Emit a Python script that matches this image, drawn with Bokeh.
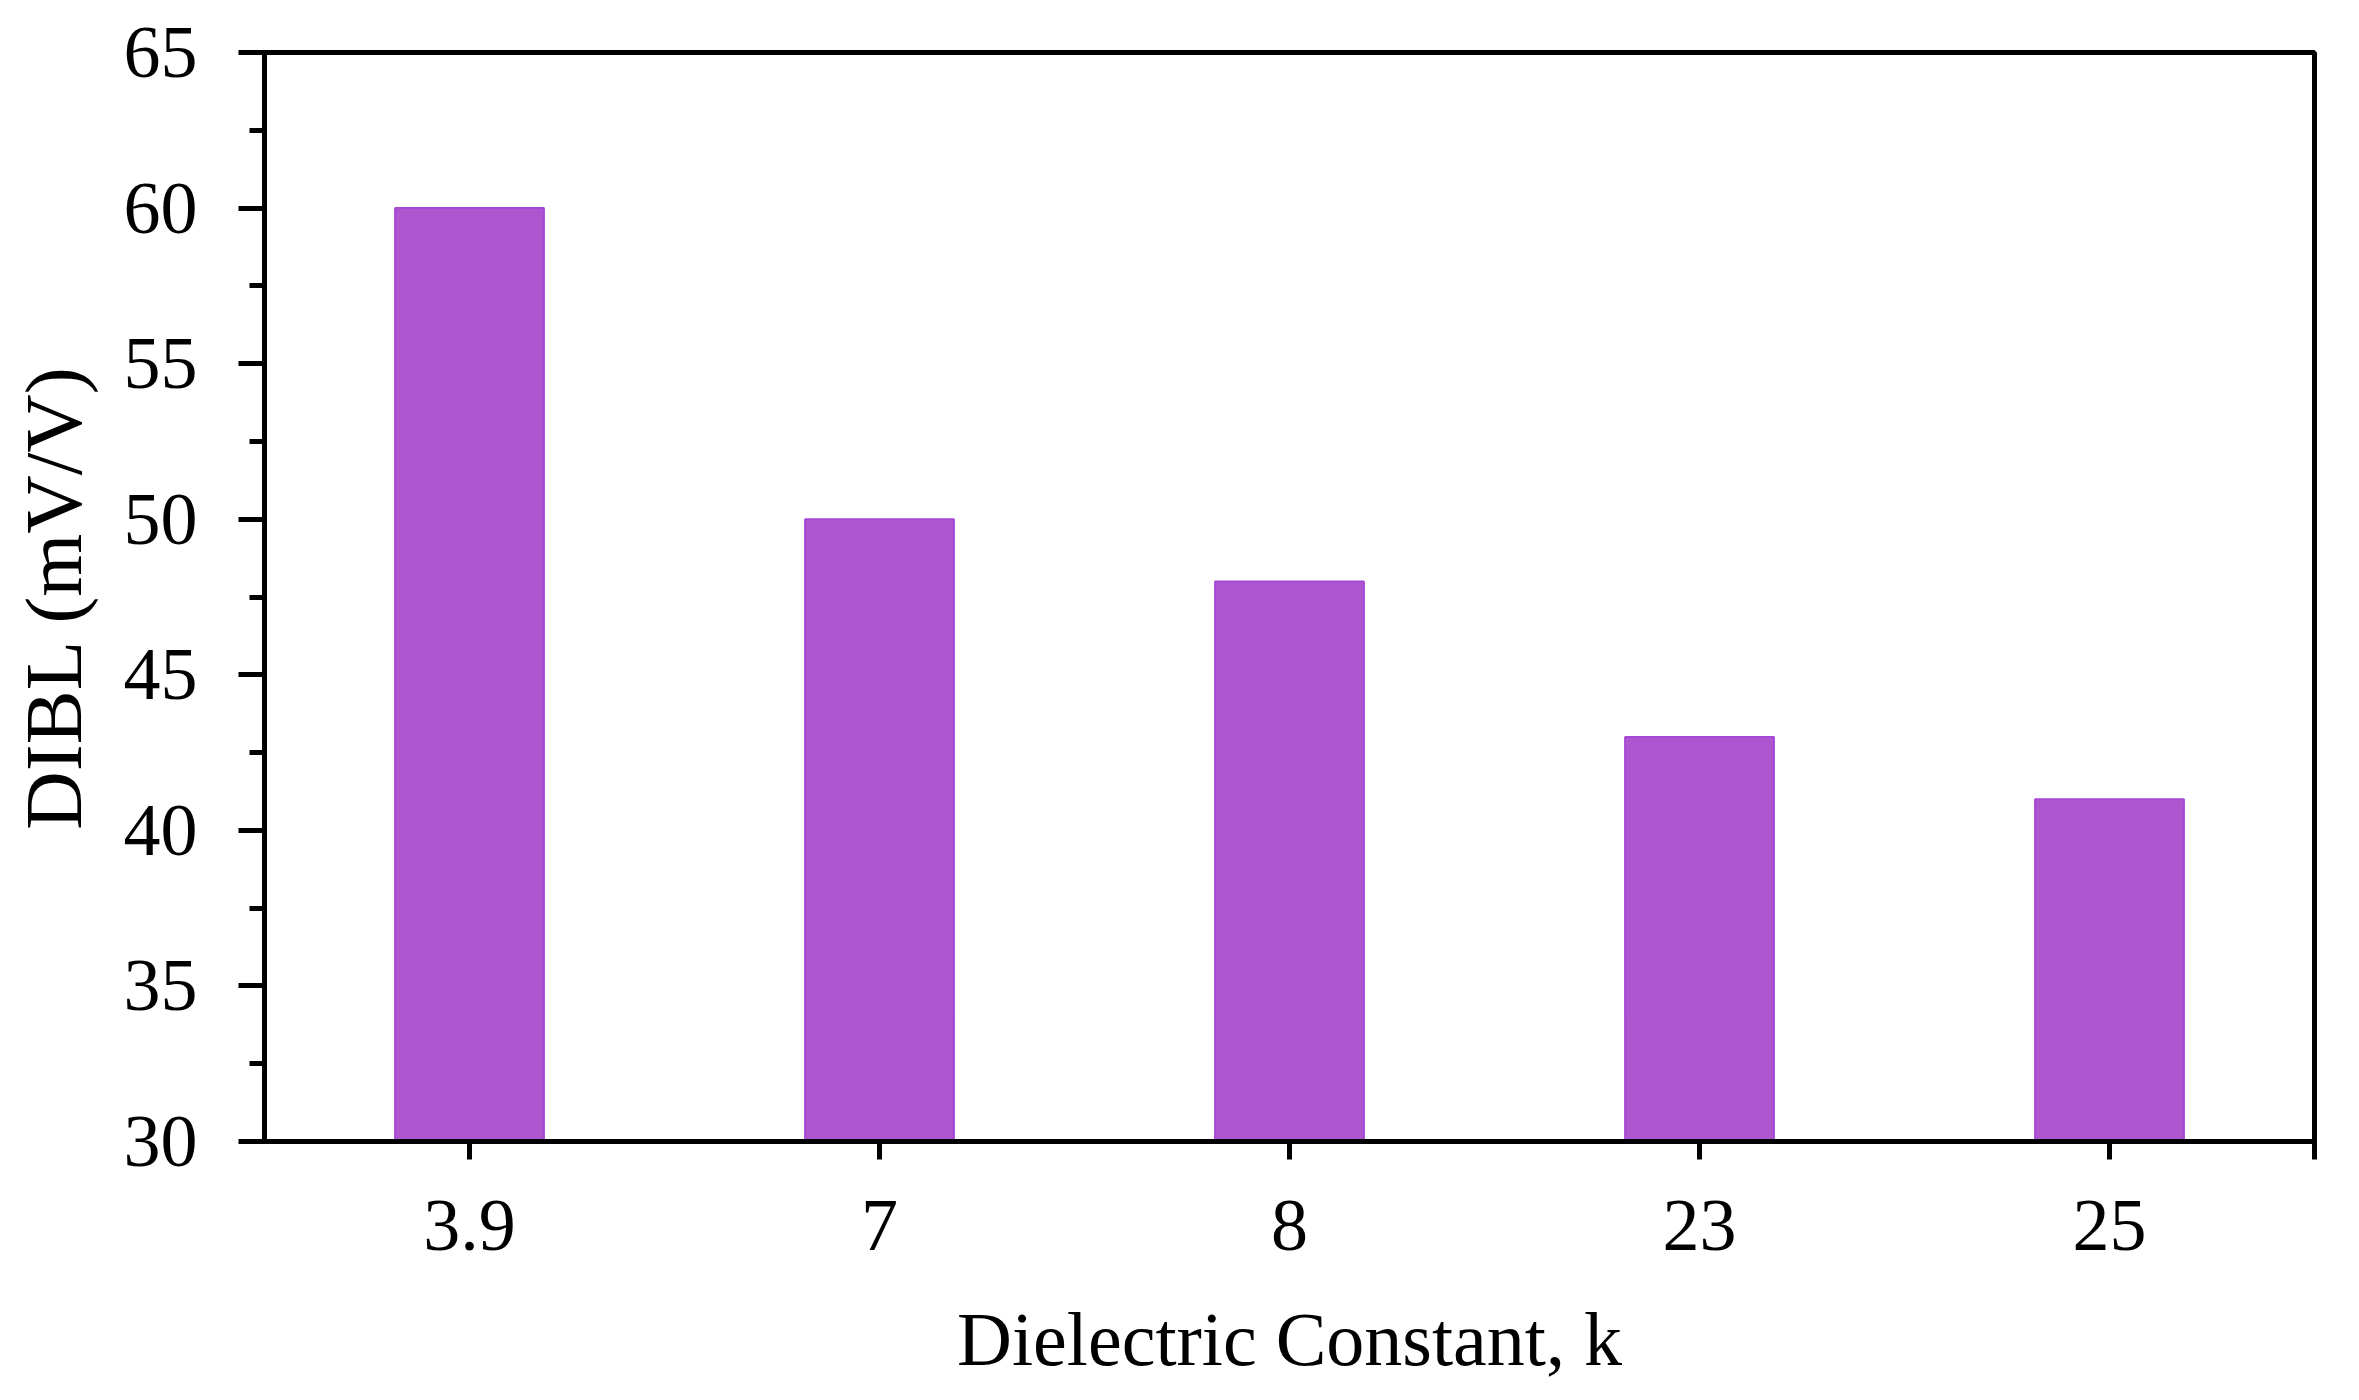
from bokeh.plotting import figure
from bokeh.models import Range1d, FixedTicker, SingleIntervalTicker, ColumnDataSource
from bokeh.embed import file_html
from bokeh.resources import INLINE

# Data
categories = ["3.9", "7", "8", "23", "25"]
dibl_values = [60, 50, 48, 43, 41]

xpos = [i + 0.5 for i in range(len(categories))]
src = ColumnDataSource(dict(x=xpos, top=dibl_values, cat=categories))

FONT = "Liberation Serif"

p = figure(width=2343, height=1384, output_backend="svg", toolbar_location=None,
           x_range=Range1d(0, len(categories)), y_range=Range1d(30, 65),
           min_border_left=264, min_border_right=29, min_border_top=52, min_border_bottom=243)

p.vbar(x="x", top="top", bottom=30, width=0.363, source=src,
       fill_color="#AD56D0", line_color="#A648D6", line_width=2)

p.grid.visible = False
p.outline_line_color = "black"
p.outline_line_width = 5
p.background_fill_color = "white"
p.border_fill_color = "white"

# X axis
xa = p.xaxis[0]
xa.ticker = FixedTicker(ticks=xpos + [len(categories)])
overrides = {x: c for x, c in zip(xpos, categories)}
overrides[len(categories)] = ""
xa.major_label_overrides = overrides
xa.axis_label = "Dielectric Constant, k"
xa.minor_tick_line_color = None
xa.major_tick_in = 0
xa.major_tick_out = 18
xa.major_tick_line_width = 5
xa.axis_line_width = 5
xa.major_label_standoff = 41
xa.axis_label_standoff = 44

# Y axis
ya = p.yaxis[0]
ya.ticker = SingleIntervalTicker(interval=5, num_minor_ticks=2)
ya.axis_label = "DIBL (mV/V)"
ya.major_tick_in = 0
ya.major_tick_out = 26
ya.minor_tick_in = 0
ya.minor_tick_out = 15
ya.major_tick_line_width = 5
ya.minor_tick_line_width = 5
ya.axis_line_width = 5
ya.major_label_standoff = 41
ya.axis_label_standoff = 22

for ax in (xa, ya):
    ax.major_label_text_font = FONT
    ax.major_label_text_font_size = "74px"
    ax.major_label_text_color = "black"
    ax.axis_label_text_font = FONT
    ax.axis_label_text_font_size = "76px"
    ax.axis_label_text_font_style = "normal"
    ax.axis_label_text_color = "black"
    ax.axis_line_color = "black"
    ax.major_tick_line_color = "black"
ya.minor_tick_line_color = "black"
ya.axis_label_text_font_size = "81px"

open("out.html", "w").write(file_html(p, INLINE))
